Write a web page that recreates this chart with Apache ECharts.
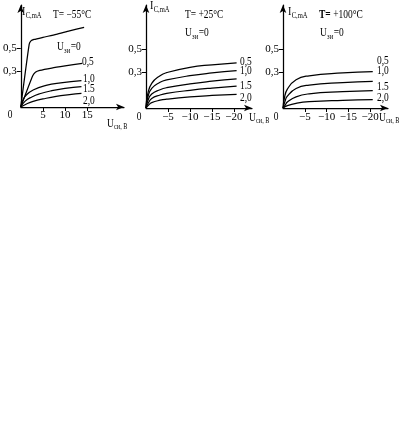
<!DOCTYPE html>
<html><head><meta charset="utf-8">
<script src="https://cdn.jsdelivr.net/npm/echarts@6/dist/echarts.min.js"></script>
<style>html,body{margin:0;padding:0;background:#fff}#c{width:406px;height:432px}</style>
</head><body><div id="c"></div>
<script>
// ---------- data (I_C in mA vs U_CИ in V) ----------
// Panel 1: T = −55 °C
const p1Temp = 'T= −55°C';
const p1XTicks = [5, 10, 15];
const p1_u00 = [[0,0],[1.9,0.53],[2.3,0.56],[3,0.572],[5,0.59],[8,0.615],[11,0.645],[14.3,0.675]];
const p1_u05 = [[0,0],[2.7,0.265],[3.3,0.295],[4.3,0.31],[7,0.33],[10,0.348],[13.9,0.37]];
const p1_u10 = [[0,0],[0.5,0.06],[1.2,0.1],[2.8,0.144],[5.7,0.183],[9,0.205],[13.7,0.223]];
const p1_u15 = [[0,0],[1,0.05],[2.5,0.085],[4.3,0.112],[7,0.138],[10,0.157],[13.7,0.172]];
const p1_u20 = [[0,0],[1.5,0.03],[3,0.05],[5,0.068],[8,0.09],[11,0.105],[13.7,0.116]];

// Panel 2: T = +25 °C
const p2Temp = 'T= +25°C';
const p2XTicks = [-5, -10, -15, -20];
const p2_u00 = [[0,0],[-0.4,0.12],[-1.3,0.209],[-3.2,0.274],[-4.7,0.3],[-10,0.345],[-15,0.366],[-20.6,0.383]];
const p2_u05 = [[0,0],[-0.4,0.09],[-1.3,0.167],[-3.2,0.218],[-4.7,0.238],[-10,0.274],[-15,0.297],[-20.6,0.316]];
const p2_u10 = [[0,0],[-0.4,0.06],[-1.3,0.118],[-3.2,0.155],[-4.7,0.172],[-10,0.205],[-15,0.227],[-20.6,0.246]];
const p2_u15 = [[0,0],[-0.5,0.04],[-1.3,0.08],[-3.2,0.11],[-4.7,0.124],[-10,0.15],[-15,0.169],[-20.6,0.186]];
const p2_u20 = [[0,0],[-0.6,0.025],[-1.3,0.045],[-3.2,0.066],[-4.7,0.075],[-10,0.094],[-15,0.106],[-20.6,0.116]];

// Panel 3: T = +100 °C
const p3Temp = '+100°C';
const p3XTicks = [-5, -10, -15, -20];
const p3_a = [[0,0],[-0.3,0.08],[-1,0.16],[-3,0.24],[-6,0.273],[-13.7,0.297],[-20.6,0.308]];
const p3_b = [[0,0],[-0.4,0.05],[-1,0.1],[-3,0.165],[-6,0.194],[-13.7,0.215],[-20.6,0.225]];
const p3_c = [[0,0],[-0.5,0.025],[-1,0.05],[-3,0.095],[-6,0.12],[-13.7,0.138],[-20.6,0.147]];
const p3_d = [[0,0],[-1,0.02],[-3,0.04],[-6,0.054],[-13.7,0.065],[-20.6,0.07]];

const yTicks = [0.3, 0.5];
const curveLabels = ['0,5', '1,0', '1.5', '2,0'];

// ---------- chart ----------
const FONT = '"Liberation Serif", "Times New Roman", serif';
const SX = 0.82; // condensed look of the original lettering
const chart = echarts.init(document.getElementById('c'), null, {renderer: 'canvas'});

const axisLine = {show: true, onZero: true, symbol: ['none', 'arrow'], symbolSize: [5, 8],
  lineStyle: {color: '#000', width: 1.25}};

function xAx(grid, min, max, inverse, ticks, margin) {
  return {gridIndex: grid, type: 'value', min: min, max: max, inverse: inverse,
    axisLine: axisLine, splitLine: {show: false},
    axisTick: {show: true, customValues: ticks, length: 4, lineStyle: {color: '#000', width: 1}},
    axisLabel: {show: true, customValues: ticks, margin: margin, color: '#000', fontFamily: FONT, fontSize: 11,
      formatter: v => (v < 0 ? '−' + Math.abs(v) : String(v))}};
}
function yAx(grid, max) {
  return {gridIndex: grid, type: 'value', min: 0, max: max,
    axisLine: axisLine, splitLine: {show: false},
    axisTick: {show: true, customValues: yTicks, length: 4, lineStyle: {color: '#000', width: 1}},
    axisLabel: {show: true, customValues: yTicks, margin: 4, color: '#000', fontFamily: FONT, fontSize: 11,
      formatter: v => v.toFixed(1).replace('.', ',')}};
}
function curve(idx, name, data, sm) {
  return {type: 'line', name: name, xAxisIndex: idx, yAxisIndex: idx, data: data,
    smooth: sm === undefined ? 0.5 : sm, showSymbol: false, silent: true,
    lineStyle: {color: '#000', width: 1.25}};
}

// text measuring for sub-scripted labels
const mctx = document.createElement('canvas').getContext('2d');
function tw(s, size, weight) { mctx.font = (weight || 'normal') + ' ' + size + 'px ' + FONT; return mctx.measureText(s).width * SX; }
function plain(x, y, text, align, size, weight) {
  return {type: 'text', x: x, y: y, scaleX: SX, silent: true,
    style: {text: text, fill: '#000', align: align || 'left', verticalAlign: 'middle',
      font: (weight || 'normal') + ' ' + (size || 11.5) + 'px ' + FONT}};
}
// main text, subscript, optional tail
function subText(x, y, main, sub, tail, mainSize, subSize) {
  const ms = mainSize || 12.5, ss = subSize || 8;
  const out = [plain(x, y, main, 'left', ms)];
  const w1 = tw(main, ms);
  out.push(plain(x + w1 + 0.3, y + 3.5, sub, 'left', ss));
  if (tail) out.push(plain(x + w1 + tw(sub, ss) + 0.8, y, tail, 'left', 11.5));
  return out;
}

const graphics = [].concat(
  // panel 1
  subText(22, 12, 'I', 'C,mA'),
  [plain(53, 15, p1Temp)],
  subText(57, 47, 'U', 'зи', '=0', 11.5),
  [plain(82, 62, curveLabels[0]), plain(83, 79, curveLabels[1]), plain(83, 89, curveLabels[2]), plain(83, 101, curveLabels[3]),
   plain(10, 115, '0', 'center')],
  subText(107, 124, 'U', 'си, B', null, 11.5, 7.5),
  // panel 2
  subText(150, 6, 'I', 'C,mA'),
  [plain(185, 15, p2Temp)],
  subText(185, 33, 'U', 'зи', '=0', 11.5),
  [plain(240, 62, curveLabels[0]), plain(240, 71, curveLabels[1]), plain(240, 86, curveLabels[2]), plain(240, 98, curveLabels[3]),
   plain(139, 117, '0', 'center')],
  subText(249, 118, 'U', 'си, B', null, 11.5, 7.5),
  // panel 3
  subText(288, 12, 'I', 'C,mA'),
  [plain(319, 15, 'T=', 'left', 11.5, 'bold'), plain(319 + tw('T=', 11.5, 'bold') + 2.5, 15, p3Temp)],
  subText(320, 33, 'U', 'зи', '=0', 11.5),
  [plain(377, 61, curveLabels[0]), plain(377, 71, curveLabels[1]), plain(377, 87, curveLabels[2]), plain(377, 98, curveLabels[3]),
   plain(276, 117, '0', 'center')],
  subText(379, 118, 'U', 'си, B', null, 11.5, 7.5)
);

chart.setOption({
  animation: false,
  backgroundColor: '#fff',
  grid: [
    {left: 17, top: 5, width: 107, height: 102},
    {left: 146, top: 5, width: 106, height: 103},
    {left: 283, top: 5, width: 105, height: 103}
  ],
  xAxis: [
    xAx(0, 0, 23.3, false, p1XTicks, 3),
    xAx(1, -24.1, 0, true, p2XTicks, 4),
    xAx(2, -24.1, 0, true, p3XTicks, 4)
  ],
  yAxis: [yAx(0, 0.864), yAx(1, 0.873), yAx(2, 0.873)],
  series: [
    curve(0, 'Uзи=0', p1_u00, 0.2), curve(0, '0,5', p1_u05, 0.2), curve(0, '1,0', p1_u10), curve(0, '1,5', p1_u15), curve(0, '2,0', p1_u20),
    curve(1, 'Uзи=0', p2_u00), curve(1, '0,5', p2_u05), curve(1, '1,0', p2_u10), curve(1, '1,5', p2_u15), curve(1, '2,0', p2_u20),
    curve(2, '1,0', p3_a), curve(2, '1,5', p3_b), curve(2, '2,0', p3_c), curve(2, '2,5', p3_d)
  ],
  graphic: graphics
});
</script></body></html>
